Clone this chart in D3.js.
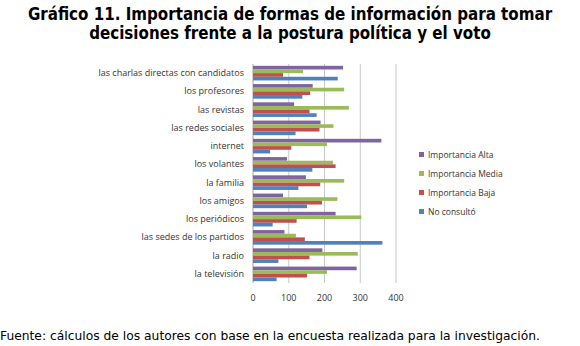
<!DOCTYPE html>
<html>
<head>
<meta charset="utf-8">
<script src="https://cdn.jsdelivr.net/npm/d3@7"></script>
<style>
  body { margin: 0; background: #fff; }
  svg { display: block; }
</style>
</head>
<body>
<svg id="chart" width="580" height="346"></svg>
<script>
// Categories, top to bottom
const categories = ["las charlas directas con candidatos", "los profesores", "las revistas",
  "las redes sociales", "internet", "los volantes", "la familia", "los amigos",
  "los periódicos", "las sedes de los partidos", "la radio", "la televisión"];
const seriesNames = ["Importancia Alta", "Importancia Media", "Importancia Baja", "No consultó"];
const alta    = [252, 167, 115, 189, 359, 95, 148, 84, 231, 88, 194, 290];
const media   = [140, 255, 268, 225, 207, 224, 255, 236, 303, 120, 293, 207];
const baja    = [84, 160, 158, 186, 107, 231, 188, 193, 122, 145, 158, 151];
const noCons  = [237, 138, 178, 119, 48, 166, 127, 151, 55, 362, 71, 66];
const xTicks = [0, 100, 200, 300, 400];
const colors = ["#8064A2", "#9BBB59", "#C0504D", "#4F81BD"];

const allSeries = [alta, media, baja, noCons];
const svg = d3.select("#chart");

// Title
const title = svg.append("text")
    .attr("text-anchor", "middle")
    .style("font-family", "'DejaVu Sans Condensed', 'DejaVu Sans', sans-serif")
    .style("font-weight", "bold")
    .style("font-size", "16.8px")
    .attr("fill", "#000");
title.append("tspan").attr("x", 290).attr("y", 20).text("Gráfico 11. Importancia de formas de información para tomar");
title.append("tspan").attr("x", 290).attr("y", 39).text("decisiones frente a la postura política y el voto");

// Plot area
const x = d3.scaleLinear().domain([0, 400]).range([253, 396]);
const y = d3.scaleBand().domain(categories).range([64, 283]).paddingInner(0.2).paddingOuter(0.1);
const yInner = d3.scaleBand().domain(d3.range(4)).range([0, y.bandwidth()]);

// Grid lines
svg.append("g")
    .selectAll("line")
    .data(xTicks)
    .join("line")
    .attr("x1", d => x(d)).attr("x2", d => x(d))
    .attr("y1", 64).attr("y2", 283)
    .attr("stroke", d => d === 0 ? "#a6a6a6" : "#c8c8c8")
    .attr("stroke-width", 1);

// Bars
const groups = svg.append("g")
    .selectAll("g")
    .data(categories)
    .join("g")
    .attr("transform", d => `translate(0, ${y(d)})`);

groups.selectAll("rect")
    .data((d, i) => allSeries.map((s, k) => ({ k, v: s[i] })))
    .join("rect")
    .attr("x", x(0))
    .attr("y", d => yInner(d.k))
    .attr("width", d => x(d.v) - x(0))
    .attr("height", yInner.bandwidth())
    .attr("fill", d => colors[d.k]);

// X axis labels
svg.append("g")
    .selectAll("text")
    .data(xTicks)
    .join("text")
    .attr("x", d => x(d))
    .attr("y", 301)
    .attr("text-anchor", "middle")
    .style("font-family", "'Open Sans', sans-serif")
    .style("font-size", "9px")
    .attr("fill", "#333")
    .text(d => d);

// Category labels
svg.append("g")
    .selectAll("text")
    .data(categories)
    .join("text")
    .attr("x", 244)
    .attr("y", d => y(d) + y.bandwidth() / 2 + 3)
    .attr("text-anchor", "end")
    .style("font-family", "'Open Sans', sans-serif")
    .style("font-size", "9px")
    .attr("fill", "#333")
    .text(d => d);

// Legend
const legend = svg.append("g")
    .selectAll("g")
    .data(seriesNames)
    .join("g")
    .attr("transform", (d, i) => `translate(419, ${152 + i * 19})`);
legend.append("rect")
    .attr("width", 5).attr("height", 5)
    .attr("fill", (d, i) => colors[i]);
legend.append("text")
    .attr("x", 9).attr("y", 5.5)
    .style("font-family", "'Open Sans', sans-serif")
    .style("font-size", "8.5px")
    .attr("fill", "#333")
    .text(d => d);

// Footnote
svg.append("text")
    .attr("x", 0).attr("y", 340)
    .style("font-family", "'DejaVu Sans', sans-serif")
    .style("font-size", "12.3px")
    .attr("fill", "#000")
    .text("Fuente: cálculos de los autores con base en la encuesta realizada para la investigación.");
</script>
</body>
</html>
